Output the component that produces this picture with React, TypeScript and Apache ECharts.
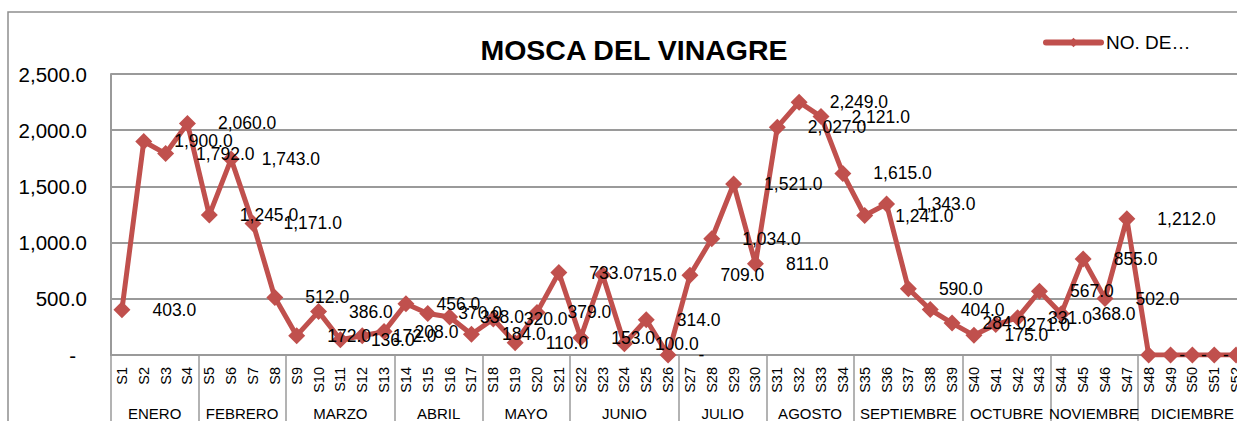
import React, { useEffect, useRef } from "react";
import * as echarts from "echarts";

const weeks: string[] = Array.from({ length: 52 }, (_, i) => "S" + (i + 1));
const counts: number[] = [
  403, 1900, 1792, 2060, 1245, 1743, 1171, 512,
  172, 386, 136, 172, 208,
  456, 370, 338, 184,
  320, 110, 379, 733,
  153, 715, 100, 314, 0,
  709, 1034, 1521, 811,
  2027, 2249, 2121, 1615,
  1241, 1343, 590, 404, 284,
  175, 271, 331, 567,
  368, 855, 502, 1212,
  0, 0, 0, 0, 0,
];
const months: string[] = [
  "ENERO", "FEBRERO", "MARZO", "ABRIL", "MAYO", "JUNIO",
  "JULIO", "AGOSTO", "SEPTIEMBRE", "OCTUBRE", "NOVIEMBRE", "DICIEMBRE",
];
const weeksPerMonth: number[] = [4, 4, 5, 4, 4, 5, 4, 4, 5, 4, 4, 5];
const yTicks: number[] = [0, 500, 1000, 1500, 2000, 2500];
const seriesName = "NO. DE…";
const title = "MOSCA DEL VINAGRE";

const FONT = "'Liberation Sans', Arial, sans-serif";
const RED = "#C0504D";
const GRID = "#9a9a9a";

function fmt(v: number): string {
  if (v === 0) return "-";
  return v.toLocaleString("en-US", { minimumFractionDigits: 1, maximumFractionDigits: 1 });
}

export default function App() {
  const ref = useRef<HTMLDivElement>(null);
  useEffect(() => {
    if (!ref.current) return;
    const chart = echarts.init(ref.current, null, { renderer: "svg" });

    const boundaries = new Set<number>();
    const centers: Record<string, string> = {};
    let acc = 0;
    weeksPerMonth.forEach((n, i) => {
      boundaries.add(acc);
      centers[(acc + n / 2).toFixed(1)] = months[i];
      acc += n;
    });

    chart.setOption({
      animation: false,
      title: {
        text: title,
        left: 629,
        textAlign: "center",
        top: 30,
        textStyle: { fontFamily: FONT, fontSize: 28.5, fontWeight: "bold", color: "#000" },
      },
      legend: {
        data: [seriesName],
        left: 1038,
        top: 28,
        itemWidth: 55,
        itemHeight: 12,
        lineStyle: { width: 6, cap: "round", color: RED },
        itemStyle: { color: RED },
        textStyle: { fontFamily: FONT, fontSize: 19, color: "#000" },
      },
      graphic: [
        {
          type: "rect",
          shape: { x: 8, y: 12, width: 1400, height: 600 },
          style: { fill: "none", stroke: "#8f8f8f", lineWidth: 1.5 },
          silent: true,
        },
      ],
      grid: { left: 111, top: 74, right: 13, bottom: 64 },
      xAxis: [
        {
          type: "category",
          data: weeks,
          boundaryGap: true,
          axisLine: { show: true, lineStyle: { color: GRID, width: 2 } },
          axisTick: {
            show: true,
            alignWithLabel: false,
            length: 70,
            interval: (idx: number) => boundaries.has(idx),
            lineStyle: { color: GRID, width: 1.5 },
          },
          axisLabel: {
            interval: 0,
            rotate: 90,
            margin: 12,
            fontFamily: FONT,
            fontSize: 14.5,
            color: "#000",
          },
        },
        {
          type: "value",
          position: "bottom",
          min: 0,
          max: weeks.length,
          interval: 0.5,
          axisLine: { show: false },
          axisTick: { show: false },
          splitLine: { show: false },
          axisLabel: {
            margin: 51,
            fontFamily: FONT,
            fontSize: 15,
            color: "#000",
            formatter: (v: number) => centers[v.toFixed(1)] || "",
          },
        },
      ],
      yAxis: {
        type: "value",
        min: yTicks[0],
        max: yTicks[yTicks.length - 1],
        interval: 500,
        axisLine: { show: true, lineStyle: { color: GRID, width: 2 } },
        axisTick: { show: false },
        splitLine: { show: true, lineStyle: { color: GRID, width: 2 } },
        axisLabel: {
          margin: 24,
          fontFamily: FONT,
          fontSize: 20.5,
          color: "#000",
          formatter: (v: number) => (v === 0 ? "{d|-}" : fmt(v)),
          rich: { d: { fontFamily: FONT, fontSize: 20.5, color: "#000", padding: [0, 11, 0, 0] } },
        },
      },
      series: [
        {
          name: seriesName,
          type: "line",
          data: counts,
          xAxisIndex: 0,
          yAxisIndex: 0,
          symbol: "diamond",
          symbolSize: 17,
          lineStyle: { color: RED, width: 5 },
          itemStyle: { color: RED },
          label: {
            show: true,
            position: "right",
            distance: 22,
            fontFamily: FONT,
            fontSize: 17.5,
            color: "#000",
            formatter: (p: any) => fmt(p.value),
          },
        },
      ],
    });
    return () => chart.dispose();
  }, []);

  return (
    <div style={{ position: "fixed", left: 0, top: 0, width: 1237, height: 421, overflow: "hidden", background: "#fff" }}>
      <div ref={ref} style={{ width: 1260, height: 421 }} />
    </div>
  );
}
